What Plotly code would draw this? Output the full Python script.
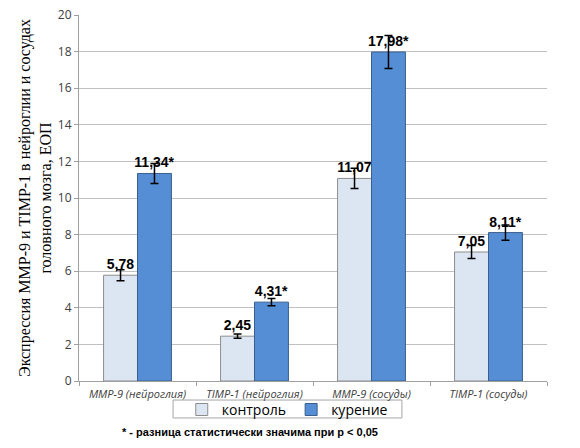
import plotly.graph_objects as go

categories = ["MMP-9 (нейроглия)", "TIMP-1 (нейроглия)", "MMP-9 (сосуды)", "TIMP-1 (сосуды)"]
control = [5.78, 2.45, 11.07, 7.05]
control_err = [0.30, 0.12, 0.55, 0.35]
smoking = [11.34, 4.31, 17.98, 8.11]
smoking_err = [0.55, 0.20, 0.90, 0.42]
control_labels = ["5,78", "2,45", "11,07", "7,05"]
smoking_labels = ["11,34*", "4,31*", "17,98*", "8,11*"]

fig = go.Figure()
fig.add_trace(go.Bar(
    x=categories, y=control, name="контроль",
    marker=dict(color="#DCE6F2", line=dict(color="#8c8c8c", width=1)),
    error_y=dict(type="data", array=control_err, color="black", thickness=1.5, width=4),
    text=control_labels, textposition="outside",
    textfont=dict(family="Liberation Sans", size=14, color="black"),
))
fig.add_trace(go.Bar(
    x=categories, y=smoking, name="курение",
    marker=dict(color="#558ED5", line=dict(color="#3a5f8f", width=1)),
    error_y=dict(type="data", array=smoking_err, color="black", thickness=1.5, width=4),
    text=smoking_labels, textposition="outside",
    textfont=dict(family="Liberation Sans", size=14, color="black"),
))

fig.update_traces(texttemplate="<b>%{text}</b>", cliponaxis=False, constraintext="none")

# page body has an 8px margin, so margins are shifted to compensate
fig.update_layout(
    width=580, height=448,
    margin=dict(l=71, r=41, t=7, b=75, autoexpand=False),
    plot_bgcolor="white", paper_bgcolor="white",
    barmode="group", bargap=0.42, bargroupgap=0,
    font=dict(family="Open Sans", color="#404040", size=12),
    showlegend=True,
    legend=dict(
        orientation="h", x=0.445, xanchor="center", y=-0.079, yanchor="middle",
        borderwidth=0, bgcolor="rgba(0,0,0,0)",
        font=dict(family="Open Sans", size=14, color="black"),
        itemwidth=30, tracegroupgap=0,
    ),
    shapes=[dict(
        type="rect", xref="paper", yref="paper",
        x0=0.201, x1=0.690, y0=-0.101, y1=-0.052,
        line=dict(color="#a6a6a6", width=1), fillcolor="white", layer="below",
    )],
    annotations=[dict(
        text="<b>* - разница статистически значима при p < 0,05</b>",
        xref="paper", yref="paper", x=0.087, y=-0.139,
        xanchor="left", yanchor="middle", showarrow=False,
        font=dict(family="Liberation Sans", size=11, color="black"),
    )],
)

fig.update_yaxes(
    range=[0, 20], dtick=2, showgrid=True, gridcolor="#c0c0c0", gridwidth=1,
    showline=True, linecolor="#a0a0a0", ticks="outside", ticklen=4, tickcolor="#a0a0a0",
    tickfont=dict(family="Open Sans", size=12, color="#404040"),
    ticklabeloverflow="allow",
    title=dict(
        text="Экспрессия MMP-9 и TIMP-1 в нейроглии и сосудах<br>головного мозга, ЕОП",
        font=dict(family="Liberation Serif", size=16, color="black"), standoff=2,
    ),
    zeroline=False, automargin=False,
)
fig.update_xaxes(
    showline=True, linecolor="#a0a0a0",
    tickfont=dict(family="Open Sans", size=11, color="#404040", style="italic"),
    ticks="outside", tickson="boundaries", ticklen=4, tickcolor="#a0a0a0",
    ticklabelstandoff=3,
    showgrid=False, automargin=False,
)

fig.write_html("out.html")
